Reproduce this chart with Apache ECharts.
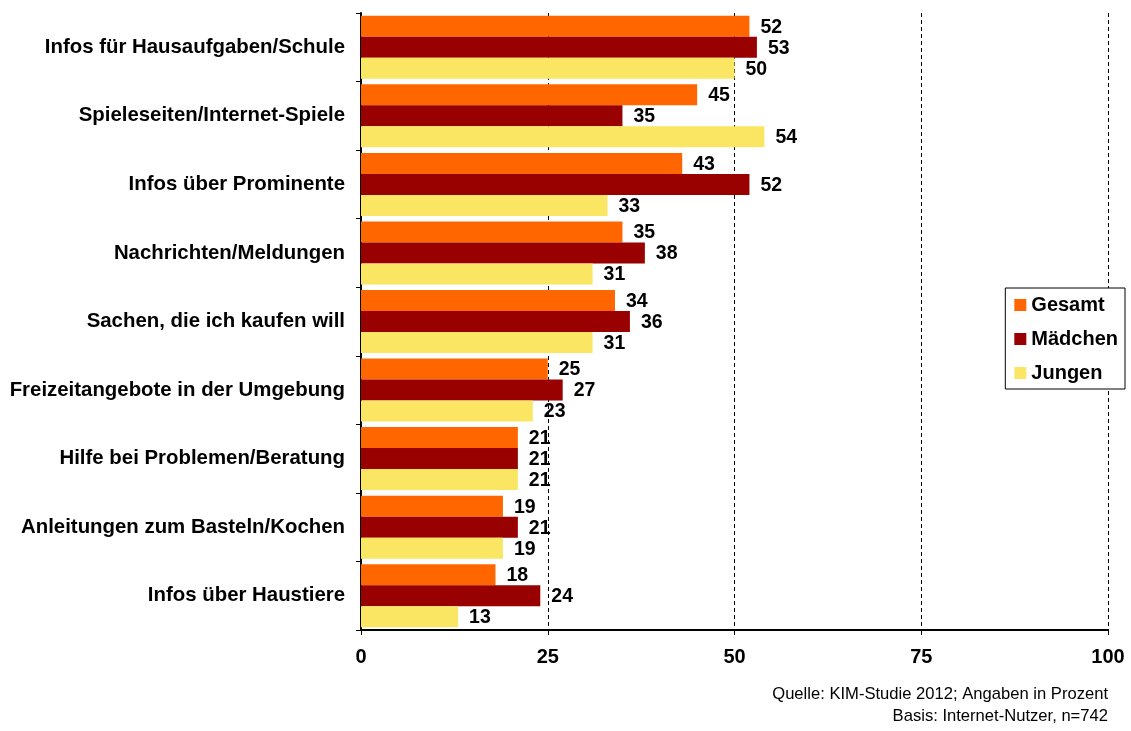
<!DOCTYPE html>
<html>
<head>
<meta charset="utf-8">
<script src="https://cdn.jsdelivr.net/npm/echarts@6/dist/echarts.min.js"></script>
<style>
  html, body { margin: 0; padding: 0; background: #fff; }
  #chart { width: 1131px; height: 731px; }
</style>
</head>
<body>
<div id="chart"></div>
<script>
// Internet activities of children (KIM-Studie 2012), in percent
const categories = [
  'Infos für Hausaufgaben/Schule',
  'Spieleseiten/Internet-Spiele',
  'Infos über Prominente',
  'Nachrichten/Meldungen',
  'Sachen, die ich kaufen will',
  'Freizeitangebote in der Umgebung',
  'Hilfe bei Problemen/Beratung',
  'Anleitungen zum Basteln/Kochen',
  'Infos über Haustiere'
];
const gesamt  = [52, 45, 43, 35, 34, 25, 21, 19, 18];
const maedchen = [53, 35, 52, 38, 36, 27, 21, 21, 24];
const jungen  = [50, 54, 33, 31, 31, 23, 21, 19, 13];
const seriesNames = ['Gesamt', 'Mädchen', 'Jungen'];
const xTicks = [0, 25, 50, 75, 100];
const footnotes = ['Quelle: KIM-Studie 2012; Angaben in Prozent', 'Basis: Internet-Nutzer, n=742'];

const colors = ['#FF6600', '#990000', '#FAE662'];
const font = 'Arial, "Liberation Sans", sans-serif';

const chart = echarts.init(document.getElementById('chart'), null, { renderer: 'canvas' });

function barSeries(name, data, color) {
  return {
    name: name,
    type: 'bar',
    data: data,
    barWidth: 21,
    barGap: '0%',
    itemStyle: { color: color },
    label: {
      show: true,
      position: 'right',
      distance: 11,
      offset: [0, 1],
      color: '#000',
      fontFamily: font,
      fontWeight: 'bold',
      fontSize: 19.5
    }
  };
}

chart.setOption({
  animation: false,
  backgroundColor: '#fff',
  color: colors,
  grid: { left: 361, right: 23, top: 13, bottom: 101, containLabel: false },
  legend: {
    orient: 'vertical',
    right: 6,
    top: 288,
    padding: [7, 7, 6, 9],
    itemWidth: 12,
    itemHeight: 12,
    itemGap: 14,
    backgroundColor: '#fff',
    borderColor: '#000',
    borderWidth: 1,
    borderRadius: 0,
    icon: 'rect',
    textStyle: { fontFamily: font, fontWeight: 'bold', fontSize: 20, color: '#000' },
    data: seriesNames
  },
  xAxis: {
    type: 'value',
    min: xTicks[0],
    max: xTicks[xTicks.length - 1],
    interval: 25,
    axisLine: { show: true, lineStyle: { color: '#000', width: 2 } },
    axisTick: { show: true, length: 5, lineStyle: { color: '#000', width: 1 } },
    axisLabel: { color: '#000', fontFamily: font, fontWeight: 'bold', fontSize: 20, margin: 17 },
    splitLine: { show: true, lineStyle: { color: '#000', width: 1, type: [4, 3] } }
  },
  yAxis: {
    type: 'category',
    inverse: true,
    data: categories,
    axisLine: { show: true, lineStyle: { color: '#000', width: 2 } },
    axisTick: { show: true, length: 5, lineStyle: { color: '#000', width: 1 } },
    axisLabel: { color: '#000', fontFamily: font, fontWeight: 'bold', fontSize: 20.4, margin: 16 }
  },
  series: [
    barSeries(seriesNames[0], gesamt, colors[0]),
    barSeries(seriesNames[1], maedchen, colors[1]),
    barSeries(seriesNames[2], jungen, colors[2])
  ],
  graphic: [
    {
      type: 'text', right: 23, top: 686,
      style: { text: footnotes[0], font: '16.6px ' + font, fill: '#000', textAlign: 'right' }
    },
    {
      type: 'text', right: 23, top: 708,
      style: { text: footnotes[1], font: '16.6px ' + font, fill: '#000', textAlign: 'right' }
    }
  ]
});
</script>
</body>
</html>
